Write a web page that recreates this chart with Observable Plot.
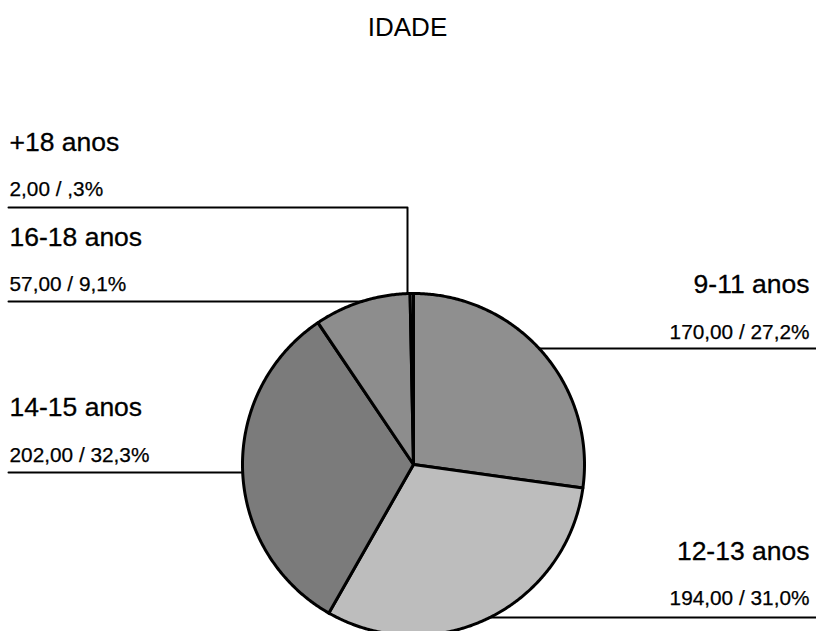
<!DOCTYPE html>
<html><head><meta charset="utf-8">
<script src="https://cdn.jsdelivr.net/npm/d3@7"></script>
<script src="https://cdn.jsdelivr.net/npm/@observablehq/plot@0.6"></script>
<style>body{margin:0;background:#fff} svg{display:block;background:#fff}</style>
</head><body><div id="chart"></div>
<script>
const title = "IDADE";
const categories = ["9-11 anos", "12-13 anos", "14-15 anos", "16-18 anos", "+18 anos"];
const counts = [170, 194, 202, 57, 2];
const percentLabels = ["27,2%", "31,0%", "32,3%", "9,1%", ",3%"];
const grays = ["#8f8f8f", "#bdbdbd", "#7b7b7b", "#8d8d8d", "#8d8d8d"];

// layout (pixels)
const W = 816, H = 631, CX = 413, CY = 464, R = 171;
const toX = px => (px - CX) / R, toY = py => (CY - py) / R;
const layout = {
  "9-11 anos":  {side: "right", nameY: 292, valueY: 338, lineY: 348},
  "12-13 anos": {side: "right", nameY: 559, valueY: 604, lineY: 617},
  "14-15 anos": {side: "left",  nameY: 415, valueY: 461, lineY: 472},
  "16-18 anos": {side: "left",  nameY: 245, valueY: 290, lineY: 301},
  "+18 anos":   {side: "left",  nameY: 150, valueY: 195, lineY: 207, elbowX: 407}
};
const LEFT_X = 9, RIGHT_X = 809, LINE_L = 8, LINE_R = 816;

// slices
const total = d3.sum(counts);
let acc = 0;
const slicePts = [];
categories.forEach((c, i) => {
  const a0 = acc / total * 2 * Math.PI; acc += counts[i];
  const a1 = acc / total * 2 * Math.PI;
  const n = Math.max(2, Math.ceil((a1 - a0) / (Math.PI / 360)));
  slicePts.push({cat: c, x: 0, y: 0});
  for (let k = 0; k <= n; k++) {
    const a = a0 + (a1 - a0) * k / n;
    slicePts.push({cat: c, x: Math.sin(a), y: Math.cos(a)});
  }
  slicePts.push({cat: c, x: 0, y: 0});
});

// leader lines
const leaderPts = [];
categories.forEach(c => {
  const L = layout[c];
  const y = toY(L.lineY);
  if (L.elbowX !== undefined) {
    const ex = toX(L.elbowX);
    leaderPts.push({cat: c, x: toX(LINE_L), y}, {cat: c, x: ex, y}, {cat: c, x: ex, y: Math.sqrt(1 - ex * ex)});
  } else {
    const edge = Math.sqrt(Math.max(0, 1 - y * y));
    if (L.side === "left") leaderPts.push({cat: c, x: toX(LINE_L), y}, {cat: c, x: -edge, y});
    else leaderPts.push({cat: c, x: edge, y}, {cat: c, x: toX(LINE_R), y});
  }
});

const fmt = v => v.toFixed(2).replace(".", ",");
const labels = categories.map((c, i) => ({
  cat: c, side: layout[c].side,
  x: toX(layout[c].side === "left" ? LEFT_X : RIGHT_X),
  nameY: toY(layout[c].nameY), valueY: toY(layout[c].valueY),
  value: `${fmt(counts[i])} / ${percentLabels[i]}`
}));
const FONT = "Liberation Sans, Arial, Helvetica, sans-serif";
const textMarks = ["left", "right"].flatMap(side => {
  const d = labels.filter(l => l.side === side);
  const anchor = side === "left" ? "start" : "end";
  return [
    Plot.text(d, {x: "x", y: "nameY", text: "cat", textAnchor: anchor, lineAnchor: "bottom", fontSize: 26.5, fontFamily: FONT, fill: "black", stroke: "black", strokeWidth: 0.3}),
    Plot.text(d, {x: "x", y: "valueY", text: "value", textAnchor: anchor, lineAnchor: "bottom", fontSize: 20.8, fontFamily: FONT, fill: "black", stroke: "black", strokeWidth: 0.25})
  ];
});

const chart = Plot.plot({
  width: W, height: H, margin: 0,
  style: {background: "#fff", overflow: "hidden"},
  x: {domain: [toX(0), toX(W)], range: [0, W], axis: null},
  y: {domain: [toY(H), toY(0)], range: [H, 0], axis: null},
  color: {domain: categories, range: grays},
  marks: [
    Plot.line(slicePts, {x: "x", y: "y", z: "cat", fill: "cat", stroke: "black", strokeWidth: 3, strokeLinejoin: "round"}),
    Plot.line(leaderPts, {x: "x", y: "y", z: "cat", stroke: "black", strokeWidth: 2}),
    ...textMarks,
    Plot.text([title], {x: toX(407), y: toY(35), text: d => d, lineAnchor: "bottom", fontSize: 26, fontFamily: FONT, fill: "black"})
  ]
});
document.getElementById("chart").appendChild(chart);
</script>
</body></html>
